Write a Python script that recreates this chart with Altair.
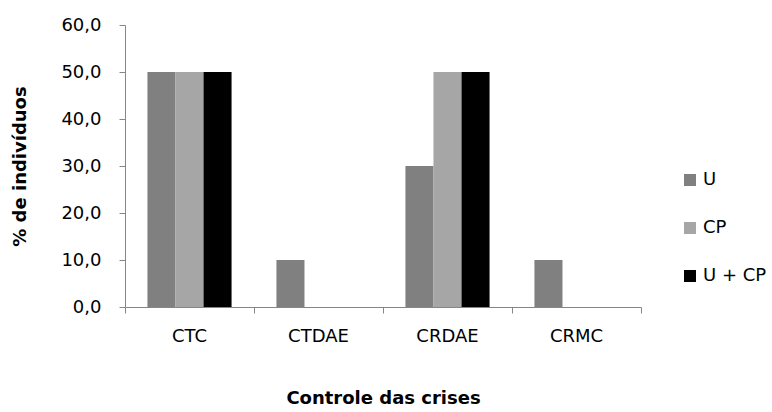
import altair as alt
import pandas as pd

categories = ["CTC", "CTDAE", "CRDAE", "CRMC"]
series = ["U", "CP", "U + CP"]
u_vals = [50.0, 10.0, 30.0, 10.0]
cp_vals = [50.0, 0.0, 50.0, 0.0]
ucp_vals = [50.0, 0.0, 50.0, 0.0]
colors = ["#808080", "#a6a6a6", "#000000"]

rows = []
for i, cat in enumerate(categories):
    for name, vals in zip(series, [u_vals, cp_vals, ucp_vals]):
        rows.append({"cat": cat, "grupo": name, "valor": vals[i]})
df = pd.DataFrame(rows)

FONT = "DejaVu Sans"
AXIS_GRAY = "#868686"
LABEL_SIZE = 18
TITLE_SIZE = 18

x_scale = alt.Scale(paddingInner=0, paddingOuter=0)

bars = alt.Chart(df).mark_bar().encode(
    x=alt.X(
        "cat:N",
        sort=categories,
        scale=x_scale,
        axis=alt.Axis(
            title="Controle das crises",
            orient="bottom",
            ticks=False,
            labelAngle=0,
            labelPadding=20,
            labelFontSize=LABEL_SIZE,
            labelColor="#000000",
            titleFontSize=TITLE_SIZE,
            titleFontWeight="bold",
            titleColor="#000000",
            titlePadding=44,
            domainColor=AXIS_GRAY,
        ),
    ),
    xOffset=alt.XOffset(
        "grupo:N", sort=series, scale=alt.Scale(paddingInner=0, paddingOuter=0.8)
    ),
    y=alt.Y(
        "valor:Q",
        scale=alt.Scale(domain=[0, 60]),
        axis=alt.Axis(
            title="% de indivíduos",
            values=[0, 10, 20, 30, 40, 50, 60],
            labelExpr="replace(format(datum.value, '.1f'), '.', ',')",
            grid=False,
            tickSize=6,
            tickColor=AXIS_GRAY,
            domainColor=AXIS_GRAY,
            labelFontSize=LABEL_SIZE,
            labelColor="#000000",
            labelPadding=18,
            titleFontSize=TITLE_SIZE,
            titleFontWeight="bold",
            titleColor="#000000",
            titlePadding=31,
        ),
    ),
    color=alt.Color(
        "grupo:N",
        sort=series,
        scale=alt.Scale(domain=series, range=colors),
        legend=alt.Legend(
            title=None,
            orient="none",
            legendX=556,
            legendY=146,
            symbolType="square",
            symbolSize=144,
            symbolStrokeWidth=0,
            labelFontSize=LABEL_SIZE,
            labelColor="#000000",
            rowPadding=30,
            labelOffset=4,
        ),
    ),
)

# boundary ticks between categories on the x axis
boundary_ticks = alt.Chart(df).mark_point(opacity=0).encode(
    x=alt.X(
        "cat:N",
        sort=categories,
        scale=x_scale,
        axis=alt.Axis(
            title=None,
            orient="bottom",
            labels=False,
            domain=False,
            ticks=True,
            tickSize=6,
            tickColor=AXIS_GRAY,
            bandPosition=1,
            tickExtra=True,
        ),
    )
)

chart = (
    alt.layer(bars, boundary_ticks)
    .resolve_axis(x="independent")
    .properties(
        width=516,
        height=282,
        autosize=alt.AutoSizeParams(type="none"),
        padding={"left": 125, "top": 25, "right": 131, "bottom": 105},
        background="#ffffff",
    )
    .configure(font=FONT)
    .configure_view(stroke=None)
)

chart.save("out.html", embed_options={"renderer": "svg", "actions": False})
